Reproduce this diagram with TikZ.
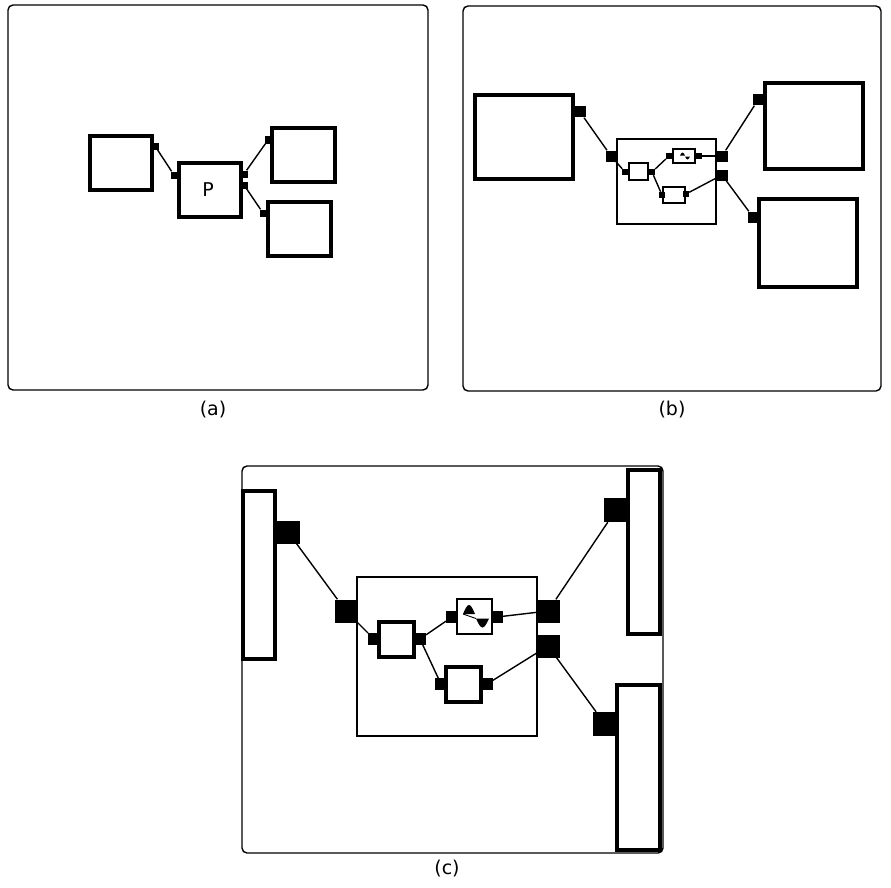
\documentclass[tikz,border=0pt]{standalone}
\usepackage{fontspec}
\setmainfont{DejaVu Sans}
\usetikzlibrary{positioning}

\begin{document}
\begin{tikzpicture}[x=1pt, y=-1pt,
    moldura/.style={draw, line width=1.4pt, rounded corners=5pt},
    bloco/.style={draw, line width=#1, inner sep=0pt},
    bloco/.default=3.5pt,
    porta/.style={fill=black, inner sep=0pt, minimum size=#1},
    liga/.style={line width=1.4pt},
    rotulo/.style={font=\fontsize{19}{20}\selectfont}]
  \useasboundingbox (0,0) rectangle (891,888);

  % ---- (a): processo P com tres vizinhos
  \draw[moldura] (8,5) rectangle (428,390);
  \node[bloco, minimum width=62pt, minimum height=54pt] (aEsq) at (121,163) {};
  \node[bloco, minimum width=62pt, minimum height=54pt] (aP) at (210,190) {};
  \node[font=\fontsize{19}{20}\selectfont] (aPtxt) at (208,190) {P};
  \node[bloco, minimum width=63pt, minimum height=54pt] (aDir1) at (303.5,155) {};
  \node[bloco, minimum width=63pt, minimum height=54pt] (aDir2) at (299.5,229) {};
  \node[porta=7pt] (pa1) at (155,146) {};
  \node[porta=7pt] (pa2) at (174,175) {};
  \node[porta=7pt] (pa3) at (244,174) {};
  \node[porta=7pt] (pa4) at (244,185) {};
  \node[porta=7pt] (pa5) at (268,140) {};
  \node[porta=7pt] (pa6) at (263,213) {};
  \draw[liga] (pa1) -- (pa2);
  \draw[liga] (pa3) -- (pa5);
  \draw[liga] (pa4) -- (pa6);
  \node[rotulo] (la) at (213,410) {(a)};

  % ---- (b): P aberto em subcomponentes
  \draw[moldura] (463,6) rectangle (881,391);
  \node[bloco, minimum width=98pt, minimum height=84pt] (bEsq) at (524,137) {};
  \node[bloco=2.2pt, minimum width=99pt, minimum height=85pt] (bMeio) at (666.5,181.5) {};
  \node[bloco, minimum width=98pt, minimum height=86pt] (bDir1) at (814,126) {};
  \node[bloco, minimum width=98pt, minimum height=88pt] (bDir2) at (808,243) {};
  % componentes internos
  \node[bloco=2.5pt, minimum width=19pt, minimum height=17pt] (bI1) at (638.5,171.5) {};
  \node[bloco=2.5pt, minimum width=22pt, minimum height=14pt] (bI2) at (684,156) {};
  \node[bloco=2.5pt, minimum width=22pt, minimum height=16pt] (bI3) at (674,195) {};
  \fill ([xshift=-4pt,yshift=0.5pt]bI2.center) sin ++(2.5,-3) cos ++(2.5,3) -- cycle;
  \fill ([xshift=1pt,yshift=-0.5pt]bI2.center) sin ++(2.5,3) cos ++(2.5,-3) -- cycle;
  \node[porta=11pt] (pb1) at (580,112) {};
  \node[porta=11pt] (pb2) at (611,156) {};
  \node[porta=11pt] (pb3) at (722,156) {};
  \node[porta=11pt] (pb4) at (722,175) {};
  \node[porta=11pt] (pb5) at (758,100) {};
  \node[porta=11pt] (pb6) at (753,217) {};
  \node[porta=6pt] (qb1) at (625,172) {};
  \node[porta=6pt] (qb2) at (652,172) {};
  \node[porta=6pt] (qb3) at (669,156) {};
  \node[porta=6pt] (qb4) at (699,156) {};
  \node[porta=6pt] (qb5) at (662,195) {};
  \node[porta=6pt] (qb6) at (686,194) {};
  \draw[liga] (pb1) -- (pb2);
  \draw[liga] (pb3) -- (pb5);
  \draw[liga] (pb4) -- (pb6);
  \draw[liga] (pb2) -- (qb1);
  \draw[liga] (qb2) -- (qb3);
  \draw[liga] (qb2) -- (qb5);
  \draw[liga] (qb4) -- (pb3);
  \draw[liga] (qb6) -- (pb4);
  \node[rotulo] (lb) at (672,410) {(b)};

  % ---- (c): vista ampliada
  \draw[moldura] (242,466) rectangle (663,853);
  \node[bloco, minimum width=32pt, minimum height=168pt] (cEsq) at (259,575) {};
  \node[bloco, minimum width=32pt, minimum height=164pt] (cDir1) at (644,552) {};
  \node[bloco, minimum width=43pt, minimum height=165pt] (cDir2) at (638.5,767.5) {};
  \node[bloco=1.6pt, minimum width=180pt, minimum height=159pt] (cMeio) at (447,656.5) {};
  % componentes internos
  \node[bloco, minimum width=35pt, minimum height=35pt] (cI1) at (396.5,639.5) {};
  \node[bloco=1.2pt, minimum width=35pt, minimum height=35pt] (cI2) at (474.5,616.5) {};
  \node[bloco, minimum width=35pt, minimum height=35pt] (cI3) at (463.5,684.5) {};
  % onda dentro de cI2
  \fill ([xshift=-11.5pt,yshift=2.5pt]cI2.center) sin ++(6,-9) cos ++(6,9) -- cycle;
  \fill ([xshift=1.5pt,yshift=-2pt]cI2.center) sin ++(6.5,9) cos ++(6.5,-9) -- cycle;
  \draw[line width=0.9pt] ([xshift=-11.5pt,yshift=2.5pt]cI2.center) -- ([xshift=1.5pt,yshift=-2pt]cI2.center);
  \node[porta=23pt] (pc1) at (288,532) {};
  \node[porta=23pt] (pc2) at (346,611) {};
  \node[porta=23pt] (pc3) at (548,611) {};
  \node[porta=23pt] (pc4) at (548,646) {};
  \node[porta=24pt] (pc5) at (616,510) {};
  \node[porta=24pt] (pc6) at (605,724) {};
  \node[porta=11.5pt] (qc1) at (374,639) {};
  \node[porta=11.5pt] (qc2) at (420,639) {};
  \node[porta=11.5pt] (qc3) at (452,617) {};
  \node[porta=11.5pt] (qc4) at (497,617) {};
  \node[porta=11.5pt] (qc5) at (441,684) {};
  \node[porta=11.5pt] (qc6) at (487,684) {};
  \draw[liga] (pc1) -- (pc2);
  \draw[liga] (pc3) -- (pc5);
  \draw[liga] (pc4) -- (pc6);
  \draw[liga] (pc2) -- (qc1);
  \draw[liga] (qc2) -- (qc3);
  \draw[liga] (qc2) -- (qc5);
  \draw[liga] (qc4) -- (pc3);
  \draw[liga] (qc6) -- (pc4);
  \node[rotulo] (lc) at (447,869) {(c)};
\end{tikzpicture}
\end{document}
